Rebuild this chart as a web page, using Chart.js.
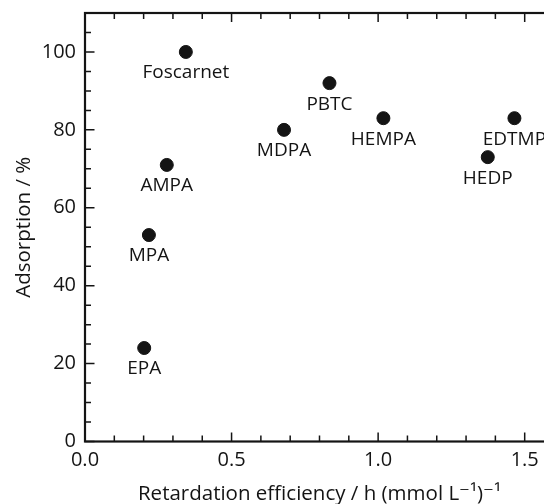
<!DOCTYPE html>
<html lang="en">
<head>
  <meta charset="UTF-8" />
  <title>Adsorption vs retardation efficiency</title>
  <script src="https://cdn.jsdelivr.net/npm/chart.js"></script>
  <style>
    body, html { margin: 0; padding: 0; overflow: hidden; background: #fff; }
    #wrap { width: 544px; height: 504px; overflow: hidden; }
    canvas { display: block; }
  </style>
</head>
<body>
  <div id="wrap">
    <canvas id="chart" width="600" height="504"></canvas>
  </div>

  <script>
    // values
    const names = ['Foscarnet', 'AMPA', 'MPA', 'EPA', 'MDPA', 'PBTC', 'HEMPA', 'HEDP', 'EDTMP'];
    const efficiency = [0.344, 0.279, 0.218, 0.202, 0.679, 0.834, 1.018, 1.374, 1.465];
    const adsorption = [100, 71, 53, 24, 80, 92, 83, 73, 83];

    const FONT = '"Open Sans", "DejaVu Sans", sans-serif';
    const INK = '#141414';

    const points = efficiency.map((x, i) => ({ x: x, y: adsorption[i], name: names[i] }));

    // inward ticks on all four sides + frame
    const frame = {
      id: 'frame',
      afterDraw(chart) {
        const { ctx, chartArea: a, scales } = chart;
        ctx.save();
        ctx.strokeStyle = INK;
        ctx.lineWidth = 1.5;
        scales.x.ticks.forEach(t => {
          const v = t.value;
          if (Math.abs(v * 10 - Math.round(v * 10)) > 1e-6) return;
          const major = Math.abs(v * 2 - Math.round(v * 2)) < 1e-6;
          const len = major ? 9 : 6;
          const px = scales.x.getPixelForValue(v);
          ctx.beginPath();
          ctx.moveTo(px, a.bottom); ctx.lineTo(px, a.bottom - len);
          ctx.moveTo(px, a.top); ctx.lineTo(px, a.top + len);
          ctx.stroke();
        });
        scales.y.ticks.forEach(t => {
          const v = t.value;
          const major = v % 20 === 0;
          const len = major ? 9.5 : 6;
          const py = scales.y.getPixelForValue(v);
          ctx.beginPath();
          ctx.moveTo(a.left, py); ctx.lineTo(a.left + len, py);
          ctx.moveTo(a.right, py); ctx.lineTo(a.right - len, py);
          ctx.stroke();
        });
        ctx.lineWidth = 2.2;
        ctx.strokeRect(a.left, a.top, a.right - a.left, a.bottom - a.top);
        ctx.restore();
      }
    };

    // compound names under each point
    const pointLabels = {
      id: 'pointLabels',
      afterDatasetsDraw(chart) {
        const { ctx, scales } = chart;
        ctx.save();
        ctx.fillStyle = INK;
        ctx.font = '19px ' + FONT;
        ctx.textAlign = 'center';
        ctx.textBaseline = 'middle';
        points.forEach(p => {
          const px = scales.x.getPixelForValue(p.x);
          const py = scales.y.getPixelForValue(p.y);
          ctx.fillText(p.name, px, py + 21);
        });
        ctx.restore();
      }
    };

    new Chart(document.getElementById('chart'), {
      type: 'scatter',
      data: {
        datasets: [{
          data: points,
          backgroundColor: INK,
          borderColor: INK,
          borderWidth: 1,
          pointRadius: 6.5,
          pointHoverRadius: 6.5
        }]
      },
      options: {
        responsive: false,
        animation: false,
        events: [],
        layout: { padding: { top: 13, right: 46, left: 0, bottom: 0 } },
        plugins: {
          legend: { display: false },
          tooltip: { enabled: false }
        },
        scales: {
          x: {
            type: 'linear',
            min: 0,
            max: 1.6,
            afterFit(s) { s.height = 62.5; s.paddingLeft = 0; s.paddingRight = 0; },
            border: { display: false },
            grid: { display: false, drawTicks: false, tickLength: 0 },
            ticks: {
              stepSize: 0.1,
              autoSkip: false,
              maxRotation: 0,
              padding: 7,
              color: INK,
              font: { family: FONT, size: 20 },
              callback: v => (Math.abs(v * 2 - Math.round(v * 2)) < 1e-6 && v < 1.55) ? v.toFixed(1) : ''
            },
            title: {
              display: true,
              text: 'Retardation efficiency / h (mmol L\u207B\u00B9)\u207B\u00B9',
              color: INK,
              font: { family: FONT, size: 20.5, lineHeight: 1 },
              padding: { top: 0, bottom: 0 }
            }
          },
          y: {
            min: 0,
            max: 110,
            afterFit(s) { s.width = 85; s.paddingTop = 0; s.paddingBottom = 0; },
            border: { display: false },
            grid: { display: false, drawTicks: false, tickLength: 0 },
            ticks: {
              stepSize: 5,
              autoSkip: false,
              padding: 9,
              color: INK,
              font: { family: FONT, size: 20 },
              callback: v => (v % 20 === 0 ? String(v) : '')
            },
            title: {
              display: true,
              text: 'Adsorption / %',
              color: INK,
              font: { family: FONT, size: 20.5, lineHeight: 1 },
              padding: { top: 13.5, bottom: 13.5 }
            }
          }
        }
      },
      plugins: [frame, pointLabels]
    });
  </script>
</body>
</html>
